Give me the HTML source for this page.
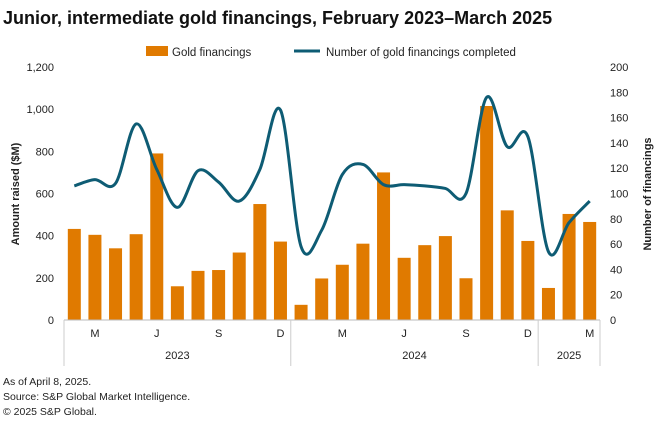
<!DOCTYPE html>
<html><head><meta charset="utf-8"><style>
body{margin:0;background:#fff;font-family:"Liberation Sans",sans-serif;}
svg text{font-family:"Liberation Sans",sans-serif;}
</style></head><body>
<svg width="660" height="429" id="c">
<text x="3" y="24" font-size="18" font-weight="bold" fill="#111">Junior, intermediate gold financings, February 2023–March 2025</text>
<rect x="146" y="46" width="22" height="10" fill="#E07A00"/>
<text x="172" y="56" font-size="11.5" fill="#222">Gold financings</text>
<line x1="294" y1="51" x2="320" y2="51" stroke="#0E5C74" stroke-width="3"/>
<text x="326" y="56" font-size="11.5" fill="#222">Number of gold financings completed</text>
<text transform="translate(19,194) rotate(-90)" text-anchor="middle" font-size="11" fill="#222" font-weight="bold">Amount raised ($M)</text>
<text transform="translate(651,194) rotate(-90)" text-anchor="middle" font-size="11" fill="#222" font-weight="bold">Number of financings</text>
<g id="plot"></g>
<text x="3" y="385" font-size="10.5" fill="#222">As of April 8, 2025.</text>
<text x="3" y="400" font-size="10.5" fill="#222">Source: S&amp;P Global Market Intelligence.</text>
<text x="3" y="415" font-size="10.5" fill="#222">© 2025 S&amp;P Global.</text>
</svg>
<script>
const months=["F","M","A","M","J","J","A","S","O","N","D","J","F","M","A","M","J","J","A","S","O","N","D","J","F","M"];
const amounts=[432,404,340,407,790,160,233,237,320,550,372,72,197,262,362,700,295,355,398,198,1015,520,375,152,503,465];
const counts=[106,111,108,155,119,89,118,109,94,119,166,58,71,115,123,107,107,106,104,100,176,137,145,54,77,94];
const leftTicks=[0,200,400,600,800,1000,1200];
const rightTicks=[0,20,40,60,80,100,120,140,160,180,200];
const labelIdx=[1,4,7,10,13,16,19,22,25];
const years=[["2023",0,10],["2024",11,22],["2025",23,25]];
const X0=64,X1=600,Y0=320,Y1=67,NS="http://www.w3.org/2000/svg";
const step=(X1-X0)/months.length;
const xc=i=>X0+step*(i+0.5);
const yL=v=>Y0-(v/1200)*(Y0-Y1);
const yR=v=>Y0-(v/200)*(Y0-Y1);
const g=document.getElementById('plot');
function mk(t,a){const e=document.createElementNS(NS,t);for(const k in a)e.setAttribute(k,a[k]);g.appendChild(e);return e;}
amounts.forEach((v,i)=>{const r=mk('rect',{x:xc(i)-6.5,y:yL(v),width:13,height:Y0-yL(v),fill:'#E07A00'});

});
leftTicks.forEach(v=>{const t=mk('text',{x:54,y:yL(v)+4,'text-anchor':'end','font-size':11,fill:'#222'});t.textContent=v.toLocaleString('en-US');

});
rightTicks.forEach(v=>{const t=mk('text',{x:610,y:yR(v)+4,'font-size':11,fill:'#222'});t.textContent=v;

});
const ax=mk('line',{x1:X0,y1:Y0,x2:X1,y2:Y0,stroke:'#bbb'});


labelIdx.forEach(i=>{const t=mk('text',{x:xc(i),y:337,'text-anchor':'middle','font-size':11,fill:'#222'});t.textContent=months[i];

});
const seps=[0,11,23,26];
seps.forEach(i=>{const x=X0+step*i;const l=mk('line',{x1:x,y1:Y0,x2:x,y2:366,stroke:'#ccc'});

});
years.forEach(([y,a,b])=>{const t=mk('text',{x:(xc(a)+xc(b))/2,y:359,'text-anchor':'middle','font-size':11,fill:'#222'});t.textContent=y;

});
const p=counts.map((v,i)=>[xc(i),yR(v)]);
let d='M'+p[0][0]+','+p[0][1];
for(let i=0;i<p.length-1;i++){const a=p[i-1]||p[i],b=p[i],c=p[i+1],e=p[i+2]||c;
d+=` C${b[0]+(c[0]-a[0])/6},${b[1]+(c[1]-a[1])/6} ${c[0]-(e[0]-b[0])/6},${c[1]-(e[1]-b[1])/6} ${c[0]},${c[1]}`;}
const ln=mk('path',{d:d,fill:'none',stroke:'#0E5C74','stroke-width':3});


</script>
</body></html>
